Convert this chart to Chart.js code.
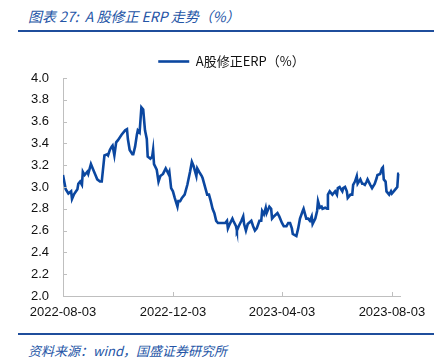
<!DOCTYPE html>
<html>
<head>
<meta charset="utf-8">
<script src="https://cdn.jsdelivr.net/npm/chart.js@4/dist/chart.umd.min.js"></script>
<style>
  body { margin: 0; background: #fff; width: 442px; height: 361px; position: relative; overflow: hidden; }
  .cap { position: absolute; left: 28px; font-family: "Noto Sans CJK SC", sans-serif; font-style: italic; color: #2455a6; white-space: nowrap; }
  .rule { position: absolute; left: 18px; width: 416px; height: 2px; background: #1f4e9c; }
  #wrap { position: absolute; left: 0; top: 40px; width: 442px; height: 290px; }
</style>
</head>
<body>
<div class="cap" style="top:6px;font-size:14px;">图表 27:&nbsp;&nbsp;A 股修正 ERP 走势（%）</div>
<div class="rule" style="top:30px;"></div>
<div id="wrap"><canvas id="chart"></canvas></div>
<div class="rule" style="top:333px;"></div>
<div class="cap" style="top:341px;font-size:13px;">资料来源：wind，国盛证券研究所</div>
<script>
// days since 2022-08-03
const days = [0, 3, 6, 9, 10, 12, 16, 17, 19, 21, 22, 24, 27, 28, 31, 33, 36, 38, 41, 43,
  46, 49, 50, 52, 54, 55, 57, 59, 61, 65, 69, 71, 72, 74, 77, 78, 80, 82, 83, 85,
  87, 89, 91, 93, 94, 97, 99, 100, 101, 104, 106, 108, 111, 114, 117, 118, 120, 122, 124, 127,
  128, 130, 132, 135, 138, 141, 143, 145, 148, 149, 151, 154, 155, 158, 160, 162, 164, 166, 168, 170,
  172, 176, 180, 182, 183, 185, 188, 189, 192, 193, 195, 198, 200, 201, 203, 205, 209, 211, 213, 215,
  218, 220, 221, 223, 225, 226, 229, 231, 232, 234, 238, 240, 243, 245, 248, 250, 252, 254, 255, 259,
  261, 263, 266, 267, 270, 272, 274, 276, 277, 280, 282, 283, 285, 287, 288, 291, 293, 294, 296, 299,
  300, 302, 304, 305, 307, 310, 311, 313, 315, 316, 319, 321, 322, 324, 326, 327, 330, 332, 333, 335,
  337, 338, 341, 343, 344, 346, 348, 349, 352, 354, 355, 356, 358, 359, 362, 364, 365, 367, 370, 371,
  372, 373];
const erp = [3.11, 2.98, 2.94, 2.96, 2.89, 2.93, 2.98, 3.03, 3.05, 3.02, 3.14, 3.11, 3.14, 3.12, 3.21, 3.17, 3.11, 3.07, 3.05, 3.05,
  3.29, 3.30, 3.29, 3.34, 3.37, 3.38, 3.29, 3.41, 3.43, 3.48, 3.52, 3.53, 3.44, 3.34, 3.30, 3.30, 3.37, 3.48, 3.52, 3.50,
  3.73, 3.71, 3.52, 3.44, 3.28, 3.26, 3.28, 3.34, 3.21, 3.16, 3.05, 3.10, 3.12, 3.17, 3.12, 3.14, 2.99, 2.96, 2.90, 2.82,
  2.87, 2.87, 2.90, 2.93, 3.02, 3.14, 3.23, 3.19, 3.10, 3.17, 3.14, 3.10, 3.08, 2.99, 2.93, 2.93, 2.87, 2.80, 2.76, 2.69,
  2.67, 2.67, 2.67, 2.69, 2.62, 2.66, 2.71, 2.69, 2.64, 2.60, 2.64, 2.69, 2.73, 2.66, 2.60, 2.66, 2.69, 2.64, 2.60, 2.62,
  2.69, 2.69, 2.78, 2.75, 2.81, 2.76, 2.82, 2.80, 2.71, 2.73, 2.76, 2.73, 2.67, 2.64, 2.64, 2.67, 2.67, 2.62, 2.57, 2.55,
  2.62, 2.71, 2.78, 2.80, 2.71, 2.71, 2.69, 2.73, 2.66, 2.71, 2.78, 2.87, 2.81, 2.82, 2.80, 2.81, 2.80, 2.93, 2.96, 2.93,
  2.94, 2.96, 2.93, 2.99, 3.00, 2.96, 2.99, 3.00, 2.96, 2.90, 2.93, 2.93, 3.02, 3.05, 3.10, 3.03, 3.07, 3.03, 3.03, 3.02,
  3.05, 3.07, 3.02, 2.99, 2.99, 3.03, 3.08, 3.11, 3.12, 3.17, 3.18, 3.07, 3.05, 2.96, 2.93, 2.96, 2.94, 2.96, 2.99, 3.00,
  3.12, 3.12];
const tickDays = [0, 122, 243, 365];
const tickLabels = ['2022-08-03', '2022-12-03', '2023-04-03', '2023-08-03'];

const axisGray = '#bfbfbf';
const lineBlue = '#0b47a0';

// short tick marks drawn inward, like the original
const innerTicks = {
  id: 'innerTicks',
  afterDraw(chart) {
    const {ctx, scales: {x, y}} = chart;
    ctx.save();
    ctx.strokeStyle = axisGray;
    ctx.lineWidth = 1;
    ctx.beginPath();
    y.ticks.forEach(t => {
      const py = Math.round(y.getPixelForValue(t.value)) + 0.5;
      ctx.moveTo(x.left, py);
      ctx.lineTo(x.left + 4, py);
    });
    x.ticks.forEach(t => {
      const px = Math.round(x.getPixelForValue(t.value)) + 0.5;
      ctx.moveTo(px, y.bottom);
      ctx.lineTo(px, y.bottom - 4);
    });
    ctx.stroke();
    ctx.restore();
  }
};

Chart.defaults.font.family = '"Liberation Sans", Arial, sans-serif';
Chart.defaults.color = '#111';

new Chart(document.getElementById('chart'), {
  type: 'line',
  data: {
    datasets: [{
      label: 'A股修正ERP（%）',
      data: days.map((d, i) => ({x: d, y: erp[i]})),
      borderColor: lineBlue,
      backgroundColor: lineBlue,
      borderWidth: 2.6,
      pointRadius: 0,
      tension: 0
    }]
  },
  options: {
    responsive: true,
    maintainAspectRatio: false,
    animation: false,
    layout: {padding: {left: 0, right: 42, top: 9, bottom: 0}},
    plugins: {
      legend: {
        fullSize: false,
        labels: {
          font: {size: 13, family: '"Noto Sans CJK SC", sans-serif'},
          usePointStyle: true,
          pointStyle: 'line',
          pointStyleWidth: 31,
          padding: 6
        }
      },
      tooltip: {enabled: false}
    },
    scales: {
      x: {
        type: 'linear',
        min: 0,
        max: 374,
        afterFit: s => { s.height = 34; },
        afterBuildTicks: s => { s.ticks = tickDays.map(v => ({value: v})); },
        grid: {display: false, drawTicks: false},
        border: {color: axisGray, width: 1},
        ticks: {
          autoSkip: false,
          maxRotation: 0,
          padding: 9,
          font: {size: 13},
          callback: v => tickLabels[tickDays.indexOf(v)]
        }
      },
      y: {
        min: 2,
        max: 4,
        afterFit: s => { s.width = 63; },
        grid: {display: false, drawTicks: false},
        border: {color: axisGray, width: 1},
        ticks: {
          stepSize: 0.2,
          padding: 14,
          font: {size: 13},
          callback: v => v.toFixed(1)
        }
      }
    }
  },
  plugins: [innerTicks]
});
</script>
</body>
</html>
